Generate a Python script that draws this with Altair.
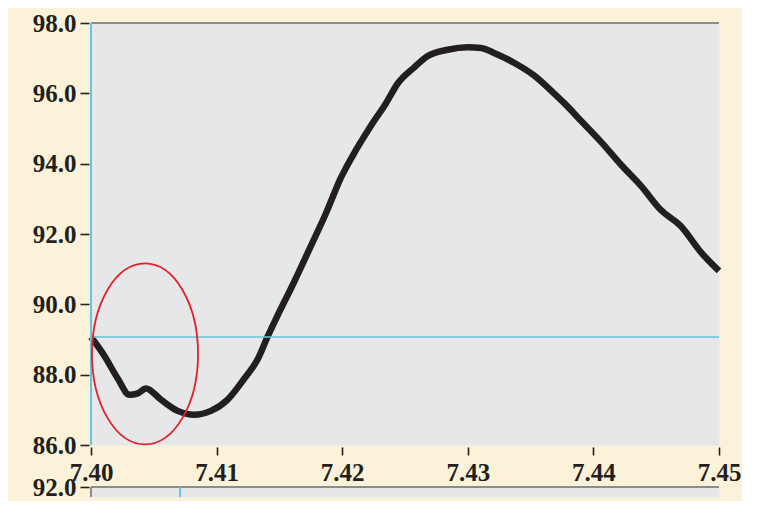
import altair as alt
import pandas as pd

# ---- data ----
t = [7.40000, 7.40106, 7.40213, 7.40305, 7.40372, 7.40438, 7.40557, 7.40690,
     7.40822, 7.40955, 7.41088, 7.41221, 7.41327, 7.41407, 7.41473, 7.41619,
     7.41752, 7.41871, 7.41990, 7.42110, 7.42229, 7.42349, 7.42442, 7.42574,
     7.42681, 7.42840, 7.42999, 7.43105, 7.43209, 7.43368, 7.43527, 7.43686,
     7.43768, 7.43901, 7.44061, 7.44220, 7.44379, 7.44538, 7.44697, 7.44857,
     7.45000]
temp = [89.07, 88.54, 87.89, 87.43, 87.47, 87.61, 87.29, 86.97,
        86.86, 86.97, 87.29, 87.89, 88.44, 89.09, 89.59, 90.65,
        91.67, 92.59, 93.60, 94.39, 95.08, 95.72, 96.28, 96.74,
        97.06, 97.24, 97.31, 97.29, 97.15, 96.87, 96.51, 96.00,
        95.72, 95.22, 94.62, 93.97, 93.37, 92.68, 92.22, 91.48,
        90.95]
x_ticks = [7.40, 7.41, 7.42, 7.43, 7.44, 7.45]
y_ticks = [86.0, 88.0, 90.0, 92.0, 94.0, 96.0, 98.0]
ref_level = [89.07]          # horizontal cyan cursor
cursor_top = [7.40]          # vertical cyan cursor, upper panel
cursor_bottom = [7.4071]     # vertical cyan cursor, lower panel
ellipse_x = [7.4043]
ellipse_y = [88.59]
lower_ticks = [92.0]

INK = "#231f20"
CYAN = "#69c3d8"
GRAY = "#8c8c8c"
RED = "#e4202a"
FONT = "Liberation Serif"

df = pd.DataFrame({"t": t, "temp": temp})
df_level = pd.DataFrame({"level": ref_level})
df_cur_top = pd.DataFrame({"c": cursor_top})
df_cur_bot = pd.DataFrame({"c": cursor_bottom})
df_ell = pd.DataFrame({"x": ellipse_x, "y": ellipse_y})
df_top = pd.DataFrame({"y": [y_ticks[-1]]})
df_low_top = pd.DataFrame({"y": lower_ticks})
df_left = pd.DataFrame({"c": [x_ticks[0]]})

xs = alt.Scale(domain=[x_ticks[0], x_ticks[-1]], nice=False, zero=False)
ys = alt.Scale(domain=[y_ticks[0], y_ticks[-1]], nice=False, zero=False)
ys2 = alt.Scale(domain=[91.72, 92.0], nice=False, zero=False)

common_axis = dict(title=None, grid=False, domain=False, offset=2,
                   tickColor=INK, tickWidth=1.6, labelColor=INK,
                   labelFont=FONT, labelFontSize=25, labelFontWeight="bold",
                   labelOverlap=False, labelFlush=False)

xaxis = alt.Axis(values=x_ticks, format=".2f", tickSize=8, labelPadding=5,
                 **common_axis)
yaxis = alt.Axis(values=y_ticks, format=".1f", tickSize=9, labelPadding=4,
                 **common_axis)
yaxis2 = alt.Axis(values=lower_ticks, format=".1f", tickSize=9, labelPadding=4,
                  **common_axis)

W, H1, H2 = 628, 422, 10

line = alt.Chart(df).mark_line(color=INK, strokeWidth=6.5, interpolate="monotone",
                               strokeJoin="round").encode(
    x=alt.X("t:Q", scale=xs, axis=xaxis),
    y=alt.Y("temp:Q", scale=ys, axis=yaxis),
)
top_border = alt.Chart(df_top).mark_rule(color=GRAY, strokeWidth=2).encode(
    y=alt.Y("y:Q", scale=ys))
hline = alt.Chart(df_level).mark_rule(color=CYAN, strokeWidth=1.5).encode(
    y=alt.Y("level:Q", scale=ys))
vline = alt.Chart(df_cur_top).mark_rule(color=CYAN, strokeWidth=2).encode(
    x=alt.X("c:Q", scale=xs))
ellipse = alt.Chart(df_ell).mark_point(
    shape="M 0.586 0 C 0.586 0.5523 0.3236 1 0 1 C -0.3236 1 -0.586 0.5523 -0.586 0 "
          "C -0.586 -0.5523 -0.3236 -1 0 -1 C 0.3236 -1 0.586 -0.5523 0.586 0 Z",
    size=32761, filled=False, color=RED, strokeWidth=1.8, opacity=1,
).encode(x=alt.X("x:Q", scale=xs), y=alt.Y("y:Q", scale=ys))

top = alt.layer(top_border, line, hline, vline, ellipse).properties(width=W, height=H1)

low_border = alt.Chart(df_low_top).mark_rule(color=GRAY, strokeWidth=2).encode(
    x=alt.value(0),
    x2=alt.value(W),
    y=alt.Y("y:Q", scale=ys2, axis=yaxis2),
)
low_left = alt.Chart(df_left).mark_rule(color=GRAY, strokeWidth=2).encode(
    x=alt.X("c:Q", scale=xs, axis=None))
low_cursor = alt.Chart(df_cur_bot).mark_rule(color=CYAN, strokeWidth=2).encode(
    x=alt.X("c:Q", scale=xs, axis=None))
bottom = alt.layer(low_border, low_left, low_cursor).properties(width=W, height=H2)

chart = alt.vconcat(top, bottom, spacing=42, bounds="flush").properties(
    padding={"left": 23, "top": 2, "right": 0, "bottom": 0},
    background="#fcf2da",
).configure_view(fill="#e6e7e9", stroke="transparent")

chart.save("out.html", embed_options={"renderer": "svg", "actions": False})
